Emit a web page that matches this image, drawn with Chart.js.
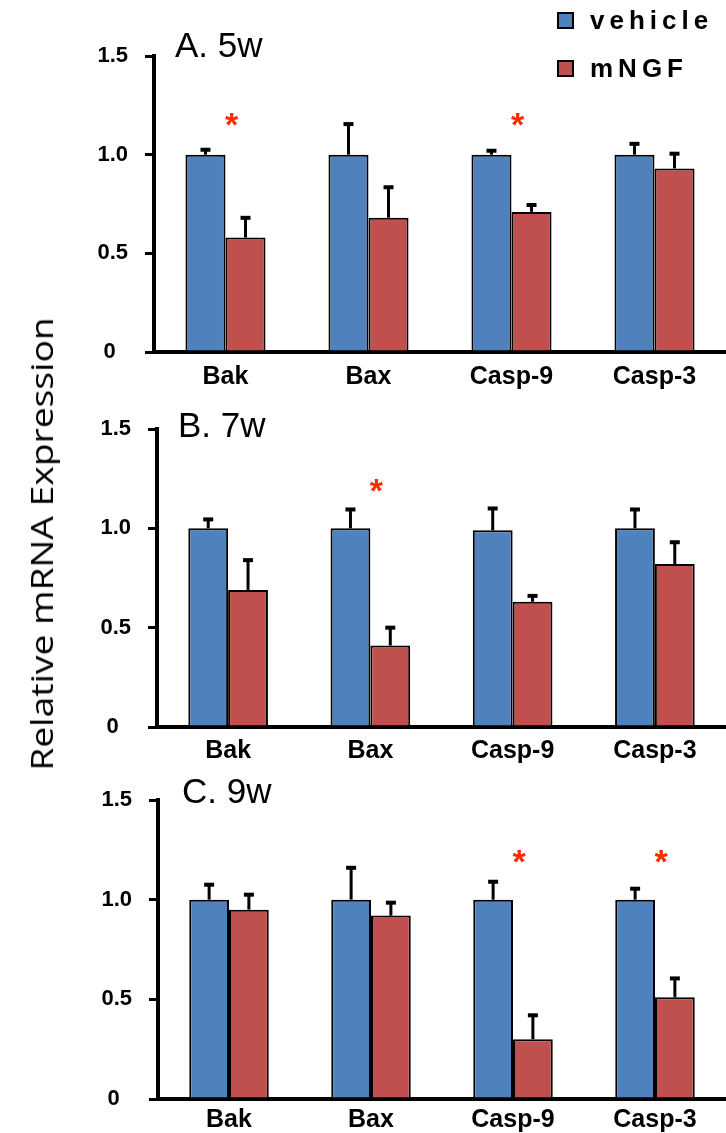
<!DOCTYPE html>
<html>
<head>
<meta charset="utf-8">
<script src="https://cdn.jsdelivr.net/npm/chart.js@4.4.1/dist/chart.umd.min.js"></script>
<style>
body { margin: 0; background: #fff; }
#wrap { position: relative; width: 726px; height: 1133px; overflow: hidden; }
.panel { position: absolute; left: 0; width: 726px; }
#ytitle {
    position: absolute; left: 41px; top: 544px;
    transform: translate(-50%, -50%) rotate(-90deg) scaleX(1.2);
    font-family: 'Open Sans', sans-serif; font-size: 31px; font-weight: 500;
    white-space: nowrap; color: #000;
}
</style>
</head>
<body>
<div id="wrap">
    <div class="panel" style="top:0;height:392px"><canvas id="chartA"></canvas></div>
    <div class="panel" style="top:380px;height:389px"><canvas id="chartB"></canvas></div>
    <div class="panel" style="top:757px;height:376px"><canvas id="chartC"></canvas></div>
    <div id="ytitle">Relative mRNA Expression</div>
</div>
<script>
const genes = ['Bak', 'Bax', 'Casp-9', 'Casp-3'];
const seriesNames = ['vehicle', 'mNGF'];
const yTickLabels = ['0  ', '0.5', '1.0', '1.5'];
const panelTitles = ['A. 5w', 'B. 7w', 'C. 9w'];

// 5 weeks
const vehicle5w = [1.0, 1.0, 1.0, 1.0];
const vehicle5wErr = [0.03, 0.16, 0.025, 0.06];
const mngf5w = [0.58, 0.68, 0.71, 0.93];
const mngf5wErr = [0.105, 0.16, 0.04, 0.08];
const stars5w = [1.17, null, 1.17, null];

// 7 weeks
const vehicle7w = [1.0, 1.0, 0.99, 1.0];
const vehicle7wErr = [0.05, 0.10, 0.115, 0.10];
const mngf7w = [0.69, 0.41, 0.63, 0.82];
const mngf7wErr = [0.155, 0.095, 0.035, 0.115];
const stars7w = [null, 1.21, null, null];

// 9 weeks
const vehicle9w = [1.0, 1.0, 1.0, 1.0];
const vehicle9wErr = [0.08, 0.165, 0.095, 0.06];
const mngf9w = [0.95, 0.92, 0.30, 0.51];
const mngf9wErr = [0.08, 0.07, 0.125, 0.10];
const stars9w = [null, null, 1.21, 1.21];

const BLUE = '#4f81bd';
const RED = '#c0504d';
const FONT = '"Liberation Sans", Arial, sans-serif';

const errorBars = {
    id: 'errorBars',
    afterDatasetsDraw(chart) {
        const { ctx, scales: { y } } = chart;
        ctx.save();
        ctx.strokeStyle = '#000';
        chart.data.datasets.forEach((ds, i) => {
            chart.getDatasetMeta(i).data.forEach((bar, j) => {
                const top = y.getPixelForValue(ds.data[j] + ds.errors[j]);
                ctx.lineWidth = 3;
                ctx.beginPath();
                ctx.moveTo(bar.x, bar.y);
                ctx.lineTo(bar.x, top);
                ctx.stroke();
                ctx.lineWidth = 4;
                ctx.beginPath();
                ctx.moveTo(bar.x - 5, top + 1);
                ctx.lineTo(bar.x + 5, top + 1);
                ctx.stroke();
            });
        });
        ctx.restore();
    }
};

const panelMarks = {
    id: 'panelMarks',
    afterDraw(chart, args, opts) {
        const { ctx, scales: { x, y } } = chart;
        ctx.save();
        // panel title
        ctx.fillStyle = '#000';
        ctx.font = '35px ' + FONT;
        ctx.textAlign = 'left';
        ctx.textBaseline = 'alphabetic';
        ctx.fillText(opts.title, chart.chartArea.left + opts.titleDx, y.getPixelForValue(1.5) + opts.titleDy);
        // significance stars
        ctx.fillStyle = '#ff2a00';
        ctx.font = 'bold 34px ' + FONT;
        ctx.textAlign = 'center';
        opts.stars.forEach((v, j) => {
            if (v === null) return;
            ctx.fillText('*', x.getPixelForValue(j) + 6, y.getPixelForValue(v) + 15);
        });
        ctx.restore();
    }
};

const sideLegend = {
    id: 'sideLegend',
    afterDraw(chart) {
        const { ctx } = chart;
        ctx.save();
        ctx.font = 'bold 26px ' + FONT;
        ctx.letterSpacing = '5px';
        ctx.textBaseline = 'alphabetic';
        ctx.textAlign = 'left';
        chart.data.datasets.forEach((ds, i) => {
            const base = 29 + i * 48;
            ctx.fillStyle = ds.backgroundColor;
            ctx.fillRect(558, base - 16, 15, 15);
            ctx.strokeStyle = '#000';
            ctx.lineWidth = 2;
            ctx.strokeRect(558, base - 16, 15, 15);
            ctx.fillStyle = '#000';
            ctx.fillText(ds.label, 590, base);
        });
        ctx.restore();
    }
};

function makePanel(id, vehicle, vehicleErr, mngf, mngfErr, stars, title, lay) {
    const extra = [errorBars, panelMarks];
    if (lay.legend) extra.push(sideLegend);
    return new Chart(document.getElementById(id), {
        type: 'bar',
        data: {
            labels: genes,
            datasets: [
                {
                    label: seriesNames[0],
                    data: vehicle,
                    errors: vehicleErr,
                    backgroundColor: BLUE,
                    borderColor: '#000',
                    borderWidth: 2,
                    categoryPercentage: 0.56,
                    barPercentage: 1.0
                },
                {
                    label: seriesNames[1],
                    data: mngf,
                    errors: mngfErr,
                    backgroundColor: RED,
                    borderColor: '#000',
                    borderWidth: 2,
                    categoryPercentage: 0.56,
                    barPercentage: 1.0
                }
            ]
        },
        options: {
            responsive: true,
            maintainAspectRatio: false,
            animation: false,
            layout: { padding: { top: lay.top, left: 0, right: 0, bottom: 0 } },
            plugins: {
                legend: { display: false },
                tooltip: { enabled: false },
                panelMarks: { title: title, stars: stars, titleDx: lay.titleDx, titleDy: lay.titleDy }
            },
            scales: {
                x: {
                    afterFit(s) { s.height = lay.axisH; },
                    grid: { display: false, drawTicks: false },
                    border: { display: true, color: '#000', width: 4 },
                    ticks: {
                        padding: lay.labelPad,
                        color: '#000',
                        font: { family: FONT, size: 25, weight: 'bold' }
                    }
                },
                y: {
                    min: 0,
                    max: 1.5,
                    afterFit(s) { s.width = lay.left; },
                    grid: { drawOnChartArea: false, drawTicks: true, tickLength: 9, color: '#000', lineWidth: 3 },
                    border: { display: true, color: '#000', width: 4 },
                    ticks: {
                        stepSize: 0.5,
                        padding: 17,
                        color: '#000',
                        font: { family: FONT, size: 22, weight: 'bold' },
                        callback: (v, i) => yTickLabels[i]
                    }
                }
            }
        },
        plugins: extra
    });
}

document.addEventListener('DOMContentLoaded', () => {
    makePanel('chartA', vehicle5w, vehicle5wErr, mngf5w, mngf5wErr, stars5w, panelTitles[0],
        { top: 56, left: 154, axisH: 40, labelPad: 10, titleDx: 21, titleDy: 1, legend: true });
    makePanel('chartB', vehicle7w, vehicle7wErr, mngf7w, mngf7wErr, stars7w, panelTitles[1],
        { top: 49, left: 157, axisH: 42, labelPad: 9, titleDx: 21, titleDy: 8 });
    makePanel('chartC', vehicle9w, vehicle9wErr, mngf9w, mngf9wErr, stars9w, panelTitles[2],
        { top: 43, left: 158, axisH: 34, labelPad: 6, titleDx: 24, titleDy: 3 });
});
</script>
</body>
</html>
